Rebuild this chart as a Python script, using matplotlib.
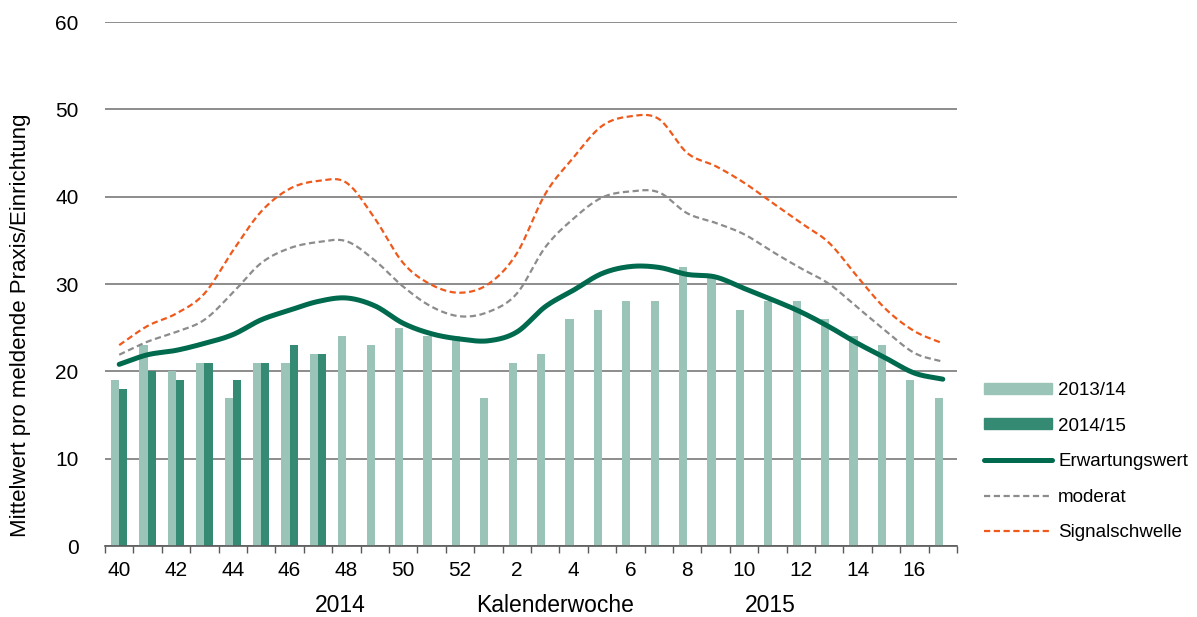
import numpy as np
import matplotlib
matplotlib.use("Agg")
import matplotlib.pyplot as plt
from matplotlib.patches import Patch
from matplotlib.lines import Line2D

plt.rcParams['font.family'] = ['Liberation Sans', 'DejaVu Sans']

weeks = list(range(40, 53)) + list(range(1, 18))
tick_labels = [str(w) if i % 2 == 0 else "" for i, w in enumerate(weeks)]

season_1314 = [19, 23, 20, 21, 17, 21, 21, 22, 24, 23, 25, 24, 24, 17, 21, 22,
               26, 27, 28, 28, 32, 31, 27, 28, 28, 26, 24, 23, 19, 17]
season_1415 = [18, 20, 19, 21, 19, 21, 23, 22]

erwartung = [20.8, 21.9, 22.4, 23.2, 24.2, 25.9, 27.0, 28.0, 28.4, 27.5, 25.5, 24.3,
             23.7, 23.5, 24.5, 27.4, 29.3, 31.2, 32.0, 31.9, 31.1, 30.8, 29.5, 28.2,
             26.8, 25.1, 23.2, 21.5, 19.8, 19.1]
moderat = [21.9, 23.4, 24.5, 25.9, 29.0, 32.4, 34.1, 34.8, 34.9, 32.7, 29.7, 27.4,
           26.3, 26.8, 28.9, 34.2, 37.5, 39.9, 40.6, 40.5, 38.1, 37.0, 35.7, 33.7,
           31.8, 30.0, 27.3, 24.6, 22.1, 21.1]
signal = [23.0, 25.2, 26.6, 28.9, 33.8, 38.3, 40.9, 41.8, 41.6, 37.5, 32.4, 29.9,
          29.0, 30.0, 33.5, 40.3, 44.5, 48.1, 49.2, 48.9, 45.0, 43.5, 41.6, 39.3,
          37.0, 34.7, 30.8, 27.1, 24.6, 23.2]


def smooth(xs, ys, n=20):
    # Catmull-Rom rendering of the data (like a spreadsheet "smoothed line")
    xs = np.asarray(xs, float)
    ys = np.asarray(ys, float)
    px = np.concatenate([[2 * xs[0] - xs[1]], xs, [2 * xs[-1] - xs[-2]]])
    py = np.concatenate([[2 * ys[0] - ys[1]], ys, [2 * ys[-1] - ys[-2]]])
    ox, oy = [], []
    t = np.linspace(0, 1, n, endpoint=False)
    for i in range(1, len(px) - 2):
        for arr, out in ((px, ox), (py, oy)):
            p0, p1, p2, p3 = arr[i - 1], arr[i], arr[i + 1], arr[i + 2]
            out.extend(0.5 * ((2 * p1) + (-p0 + p2) * t +
                              (2 * p0 - 5 * p1 + 4 * p2 - p3) * t ** 2 +
                              (-p0 + 3 * p1 - 3 * p2 + p3) * t ** 3))
    ox.append(xs[-1]); oy.append(ys[-1])
    return np.array(ox), np.array(oy)


W, H = 1197, 617
fig = plt.figure(figsize=(W / 100, H / 100), dpi=100)
ax = fig.add_axes([105 / W, (H - 546) / H, (957 - 105) / W, (546 - 22) / H])

x = np.arange(len(weeks))
bw = 0.29
c_light = '#9bc4b8'
c_dark = '#358a73'
c_erw = '#006a4e'
c_mod = '#8c8c8c'
c_sig = '#ef5a1c'
dash = (2.8, 1.6)

ax.bar(x - bw / 2, season_1314, width=bw, color=c_light, zorder=2)
ax.bar(x[:len(season_1415)] + bw / 2, season_1415, width=bw, color=c_dark, zorder=2)

sx, sy = smooth(x, erwartung)
ax.plot(sx, sy, color=c_erw, lw=3.6, solid_capstyle='round', zorder=4)
sx, sy = smooth(x, moderat)
ax.plot(sx, sy, color=c_mod, lw=1.6, dashes=dash, zorder=3)
sx, sy = smooth(x, signal)
ax.plot(sx, sy, color=c_sig, lw=1.6, dashes=dash, zorder=3)

ax.set_xlim(-0.5, len(weeks) - 0.5)
ax.set_ylim(0, 60)
ax.set_yticks(range(0, 61, 10))
ax.yaxis.grid(True, color='#8c8c8c', lw=1.4)
ax.set_axisbelow(True)
ax.tick_params(axis='y', length=0, labelsize=15, pad=19)
ax.set_xticks(x)
ax.set_xticklabels(tick_labels)
ax.set_xticks(np.arange(-0.5, len(weeks)), minor=True)
ax.tick_params(axis='x', which='major', length=0, labelsize=15, pad=11)
ax.tick_params(axis='x', which='minor', length=5, width=1, color='#595959', direction='out')
for s in ('left', 'right', 'top'):
    ax.spines[s].set_visible(False)
ax.spines['bottom'].set_color('#595959')
ax.spines['bottom'].set_linewidth(1.2)

fig.text(340 / W, 1 - 605 / H, '2014', ha='center', va='center', fontsize=16.5)
fig.text(555 / W, 1 - 605 / H, 'Kalenderwoche', ha='center', va='center', fontsize=16.5)
fig.text(770 / W, 1 - 605 / H, '2015', ha='center', va='center', fontsize=16.5)
fig.text(21 / W, 1 - 325 / H, 'Mittelwert pro meldende Praxis/Einrichtung',
         rotation=90, ha='center', va='center', fontsize=16)

handles = [Patch(color=c_light, label='2013/14'),
           Patch(color=c_dark, label='2014/15'),
           Line2D([], [], color=c_erw, lw=3.6, solid_capstyle='round', label='Erwartungswert'),
           Line2D([], [], color=c_mod, lw=1.6, dashes=dash, label='moderat'),
           Line2D([], [], color=c_sig, lw=1.6, dashes=dash, label='Signalschwelle')]
fig.legend(handles=handles, loc='upper left', bbox_to_anchor=(984 / W, 1 - 382 / H),
           frameon=False, fontsize=13.5, handlelength=3.63, handleheight=0.53,
           labelspacing=0.99, handletextpad=0.32, borderaxespad=0, borderpad=0)

fig.savefig('out.png', dpi=100)
